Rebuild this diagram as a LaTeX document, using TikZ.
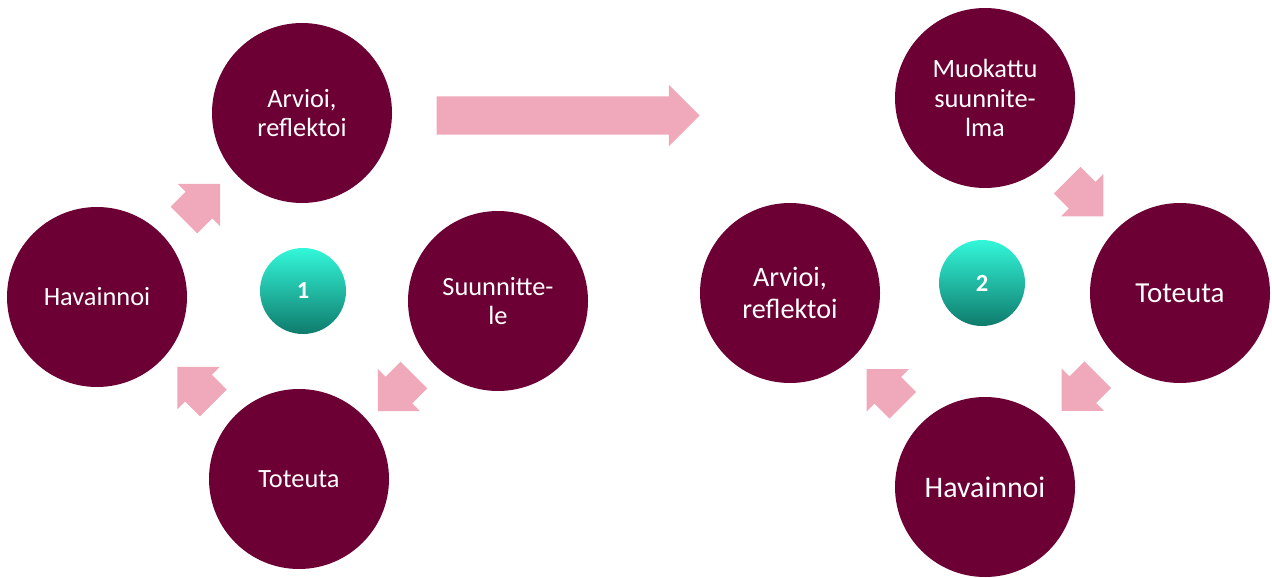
\documentclass[tikz,border=0pt]{standalone}
\usepackage{fontspec}
\setmainfont{Carlito}
\usetikzlibrary{shapes.arrows,calc}
\definecolor{wine}{HTML}{6C0034}
\definecolor{rosy}{HTML}{EFA9BA}
\definecolor{tealtop}{HTML}{33F7DA}
\definecolor{tealbot}{HTML}{0F7B6C}

\begin{document}
\begin{tikzpicture}[
    stage/.style={circle, fill=wine, text=white, minimum size=3.6cm, inner sep=0pt,
        align=center, font=\fontsize{15}{17}\selectfont},
    numball/.style={circle, top color=tealtop, bottom color=tealbot, draw=none,
        minimum size=1.72cm, text=white, font=\bfseries\fontsize{14}{16}\selectfont},
    turn/.style={single arrow, fill=rosy, minimum height=1.02cm, minimum width=1.18cm,
        single arrow head extend=0.22cm, inner xsep=0pt, inner ysep=0.37cm}
]
    \useasboundingbox (0,0) rectangle (25.44,11.54);

    % first round
    \node[stage] (arv1) at (6.04, 9.28) {Arvioi,\\reflektoi};
    \node[stage] (hav1) at (1.94, 5.60) {Havainnoi};
    \node[stage] (suu1) at (9.96, 5.52) {Suunnitte-\\le};
    \node[stage] (tot1) at (5.98, 1.96) {Toteuta};
    \node[numball] (one) at (6.06, 5.72) {1};

    % second round
    \node[stage, font=\fontsize{15}{17}\selectfont] (muo2) at (19.7, 9.58) {Muokattu\\suunnite-\\lma};
    \node[stage, font=\fontsize{16.5}{18}\selectfont] (tot2) at (23.6, 5.68) {Toteuta};
    \node[stage, font=\fontsize{17}{19}\selectfont] (hav2) at (19.7, 1.80) {Havainnoi};
    \node[stage, font=\fontsize{16}{18}\selectfont] (arv2) at (15.8, 5.68) {Arvioi,\\reflektoi};
    \node[numball] (two) at (19.64, 5.88) {2};

    % arrows
    \foreach \a/\b/\r in {hav1/arv1/45, suu1/tot1/225, tot1/hav1/135,
                          muo2/tot2/-45, tot2/hav2/225, hav2/arv2/135} {
        \node[turn, rotate=\r] (\a-\b) at ($(\a)!0.48!(\b)$) {};
    }
    \node[single arrow, fill=rosy, minimum height=5.26cm, minimum width=1.22cm,
        single arrow head extend=0.23cm, inner xsep=0pt, inner ysep=0.376cm] (next) at (11.17, 9.23) {};
\end{tikzpicture}
\end{document}
